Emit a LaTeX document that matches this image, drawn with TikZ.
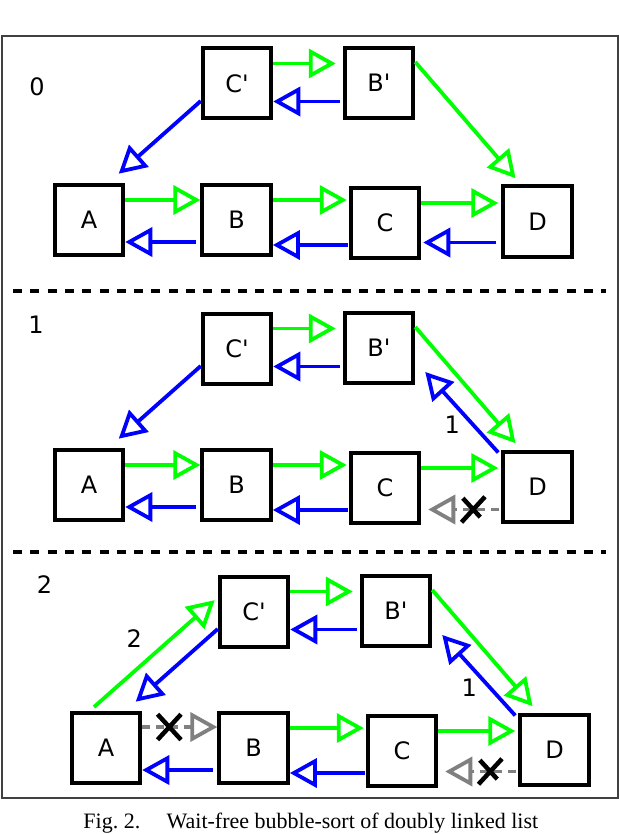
\documentclass[tikz,border=0pt]{standalone}
\usepackage{fontspec}
\setmainfont{Liberation Serif}
\newfontfamily\boxfont{DejaVu Sans}
\usepackage{tikz}
\usetikzlibrary{arrows.meta, positioning, shapes.misc}
\definecolor{nextG}{RGB}{0,255,0}
\definecolor{prevB}{RGB}{0,0,255}
\definecolor{deadG}{RGB}{128,128,128}
\tikzset{
  cell/.style={draw=black, fill=white, line width=4pt,
               minimum width=68.5pt, minimum height=70pt,
               inner sep=0pt, font=\fontsize{24}{24}\boxfont},
  nextP/.style={draw=nextG, line width=3.8pt,
                -{Triangle[open, length=27pt, width=29pt]}},
  prevP/.style={draw=prevB, line width=3.8pt,
                -{Triangle[open, length=27pt, width=29pt]}},
  deadP/.style={draw=deadG, line width=3.8pt, dash pattern=on 8pt off 6pt,
                -{Triangle[open, length=27pt, width=29pt]}},
  xmark/.style={cross out, draw=black, solid, line width=4.5pt,
                minimum width=19pt, minimum height=21pt, inner sep=0pt},
  stepno/.style={inner sep=0pt, font=\fontsize{24}{24}\boxfont},
  sepline/.style={line width=4pt, dash pattern=on 9pt off 8.3pt},
  frame/.style={draw=black!75, line width=1.3pt},
}
\begin{document}
\begin{tikzpicture}[x=1pt, y=-1pt]
    \useasboundingbox (0,0) rectangle (620,834);
    \draw[frame] (2,36) rectangle (618,798);
    %% separators
    \draw[sepline] (13,291) -- (606,291);
    \draw[sepline] (13,552) -- (606,552);
    %% step numbers
    \node[stepno] (s0) at (37,86.5) {0};
    \node[stepno] (s1) at (36,325) {1};
    \node[stepno] (s2) at (44.5,585) {2};
    %% the three states of the list
    \foreach \s/\dx/\dy in {0/0/0, 1/0/265, 2/17/528} {
      \begin{scope}[shift={(\dx,\dy)}]
        \node[cell] (Cp\s) at (237,83.5)  {C'};
        \node[cell] (Bp\s) at (379,83)    {B'};
        \node[cell] (A\s)  at (89,220)    {A};
        \node[cell] (B\s)  at (236.6,220) {B};
        \node[cell] (C\s)  at (385,223)   {C};
        \node[cell] (D\s)  at (537.5,221.5) {D};
      \end{scope}
      %% links that never change
      \draw[nextP, shorten >=7pt] ([yshift=20pt]Cp\s.east) -- ([yshift=20pt]Cp\s.east -| Bp\s.west);
      \draw[prevP, shorten <=3pt] ([yshift=-18.5pt]Bp\s.west) -- ([yshift=-18.5pt]Bp\s.west -| Cp\s.east);
      \draw[prevP, shorten >=5pt] ([yshift=-17.5pt]Cp\s.west) -- ([xshift=26pt,yshift=6pt]A\s.north);
      \draw[nextP, shorten >=3pt] ([yshift=21pt]Bp\s.east) -- ([xshift=-20pt,yshift=4pt]D\s.north);
      \draw[prevP, shorten <=4pt] ([yshift=-22pt]B\s.west) -- ([yshift=-22pt]B\s.west -| A\s.east);
      \draw[nextP, shorten >=2pt] ([yshift=20pt]B\s.east) -- ([yshift=20pt]B\s.east -| C\s.west);
      \draw[prevP, shorten <=1pt] ([yshift=-22pt]C\s.west) -- ([yshift=-22pt]C\s.west -| B\s.east);
      \draw[nextP, shorten >=3pt] ([yshift=20pt]C\s.east) -- ([yshift=20pt]C\s.east -| D\s.west);
    }
    %% state 0
    \draw[nextP] ([yshift=20pt]A0.east) -- ([yshift=20pt]A0.east -| B0.west);
    \draw[prevP, shorten <=5pt, shorten >=2pt] ([yshift=-21pt]D0.west) -- ([yshift=-21pt]D0.west -| C0.east);
    %% state 1
    \draw[nextP] ([yshift=20pt]A1.east) -- ([yshift=20pt]A1.east -| B1.west);
    \draw[deadP, shorten <=2pt, shorten >=7pt] ([yshift=-23pt]D1.west) -- ([yshift=-23pt]D1.west -| C1.east)
      node[xmark, pos=0.35] (x1) {};
    \draw[prevP] ([xshift=-3pt,yshift=-3pt]D1.north west) -- ([xshift=10pt,yshift=-24pt]Bp1.east)
      node[stepno, pos=0.35, left=11pt] (l1) {1};
    %% state 2
    \draw[deadP] ([yshift=21pt]A2.east) -- ([yshift=21pt]A2.east -| B2.west)
      node[xmark, pos=0.36] (x2) {};
    \draw[deadP, shorten <=2pt, shorten >=7pt] ([yshift=-22pt]D2.west) -- ([yshift=-22pt]D2.west -| C2.east)
      node[xmark, pos=0.35] (x3) {};
    \draw[prevP] ([xshift=-3pt,yshift=-3pt]D2.north west) -- ([xshift=10pt,yshift=-24pt]Bp2.east)
      node[stepno, pos=0.35, left=11pt] (l2) {1};
    \draw[nextP, shorten >=4pt] ([xshift=-12pt,yshift=4pt]A2.north) -- ([yshift=14pt]Cp2.west)
      node[stepno, pos=0.5, anchor=south east, xshift=-12pt, yshift=3pt] (l3) {2};
    %% caption
    \node[anchor=base, font=\fontsize{22}{26}\selectfont] (cap) at (310.8,828)
      {Fig.~2.\hspace{1.2em}Wait-free bubble-sort of doubly linked list};
\end{tikzpicture}
\end{document}
